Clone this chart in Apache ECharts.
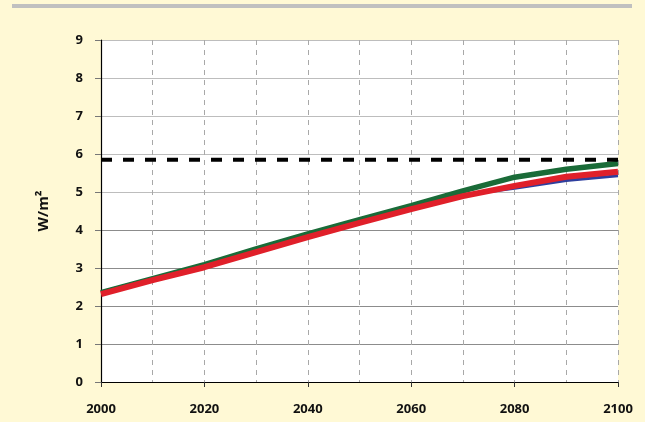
<!DOCTYPE html>
<html>
<head>
<meta charset="utf-8">
<script src="https://cdn.jsdelivr.net/npm/echarts@6/dist/echarts.min.js"></script>
<style>
  html, body { margin: 0; padding: 0; background: #FFF9D5; }
  #chart { width: 645px; height: 422px; }
</style>
</head>
<body>
<div id="chart"></div>
<script>
// Radiative forcing pathways, 2000–2100 (W/m²)
const years = [2000, 2010, 2020, 2030, 2040, 2050, 2060, 2070, 2080, 2090, 2100];
const blueSeries  = [2.37, 2.73, 3.08, 3.47, 3.85, 4.22, 4.58, 4.92, 5.10, 5.30, 5.43];
const greenSeries = [2.35, 2.72, 3.09, 3.50, 3.90, 4.27, 4.64, 5.03, 5.39, 5.60, 5.75];
const redSeries   = [2.31, 2.68, 3.02, 3.42, 3.81, 4.19, 4.55, 4.89, 5.16, 5.40, 5.53];
const targetLevel = 5.85;
const yTicks = [0, 1, 2, 3, 4, 5, 6, 7, 8, 9];

const pairs = (vals) => years.map((y, i) => [y, vals[i]]);
const font = '"Open Sans", "DejaVu Sans", sans-serif';

const chart = echarts.init(document.getElementById('chart'));
chart.setOption({
  backgroundColor: '#FFF9D5',
  animation: false,
  graphic: [{
    type: 'rect',
    shape: { x: 12, y: 4, width: 620, height: 4 },
    style: { fill: '#C0C0C0' }
  }],
  grid: { left: 101, right: 27, top: 40, bottom: 40, backgroundColor: '#FFFFFF', show: true, borderWidth: 0 },
  xAxis: [{
    type: 'value', min: 2000, max: 2100, interval: 20,
    axisLine: { show: true, lineStyle: { color: '#000', width: 1.2 } },
    axisTick: { show: true, length: 5, lineStyle: { color: '#333' } },
    axisLabel: {
      margin: 21, color: '#111', fontFamily: font, fontWeight: 'bold', fontSize: 13,
      formatter: (v) => String(v)
    },
    splitLine: { show: false }
  }, {
    type: 'value', min: 2000, max: 2100, interval: 10, position: 'bottom',
    axisLine: { show: false }, axisTick: { show: false }, axisLabel: { show: false },
    splitLine: { show: true, lineStyle: { color: '#A8A8A8', type: [5, 5], width: 1 } }
  }],
  yAxis: {
    type: 'value', min: yTicks[0], max: yTicks[yTicks.length - 1], interval: 1,
    name: 'W/m²', nameLocation: 'middle', nameGap: 50, nameRotate: 90,
    nameTextStyle: { color: '#111', fontFamily: font, fontWeight: 'bold', fontSize: 15 },
    axisLine: { show: true, lineStyle: { color: '#000', width: 1.2 } },
    axisTick: { show: true, length: 6, lineStyle: { color: '#777' } },
    axisLabel: {
      margin: 18, color: '#111', fontFamily: font, fontWeight: 'bold', fontSize: 13,
      formatter: (v) => (yTicks.includes(v) ? String(v) : '')
    },
    splitLine: {
      show: true,
      lineStyle: { width: 1, color: ['#8C8C8C', '#8C8C8C', '#8C8C8C', '#8C8C8C', '#8C8C8C', '#BDBDBD', '#BDBDBD', '#BDBDBD', '#BDBDBD', '#BDBDBD'] }
    }
  },
  series: [{
    type: 'line', data: years.map((y) => [y, targetLevel]), symbol: 'none',
    lineStyle: { color: '#000', width: 4, type: [11, 11] }, z: 5
  }, {
    type: 'line', data: pairs(blueSeries), symbol: 'none',
    lineStyle: { color: '#2E3F9E', width: 3 }, z: 2
  }, {
    type: 'line', data: pairs(greenSeries), symbol: 'none',
    lineStyle: { color: '#1A6B38', width: 5.5 }, z: 3
  }, {
    type: 'line', data: pairs(redSeries), symbol: 'none',
    lineStyle: { color: '#E0202A', width: 6 }, z: 4
  }]
});
</script>
</body>
</html>
